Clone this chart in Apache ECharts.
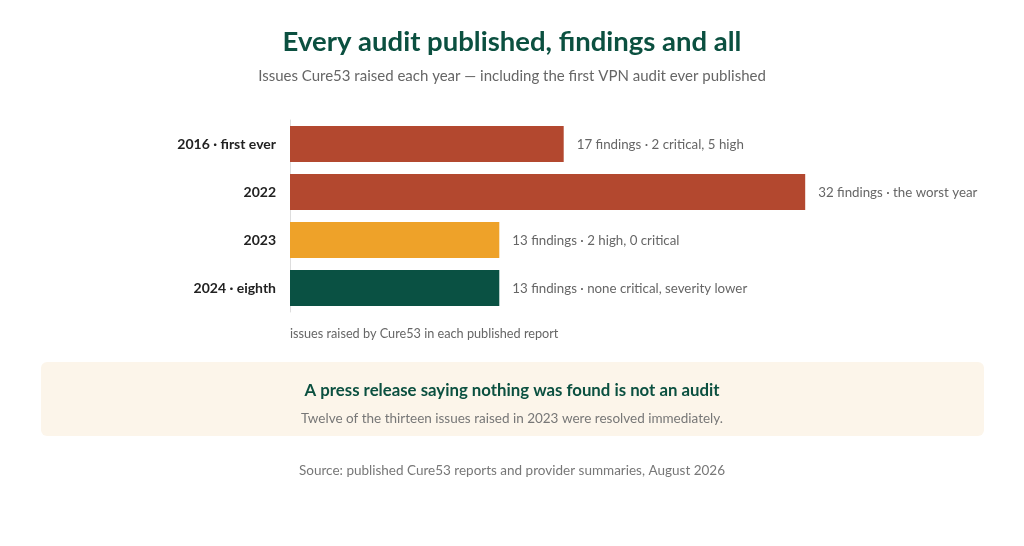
<!DOCTYPE html>
<html><head><meta charset="utf-8">
<script src="https://cdn.jsdelivr.net/npm/echarts@6/dist/echarts.min.js"></script>
<style>html,body{margin:0;padding:0;background:#fff}#c{width:1024px;height:546px}</style>
</head><body><div id="c"></div>
<script>
const categories = ['2016 · first ever', '2022', '2023', '2024 · eighth'];
const values = [17, 32, 13, 13];
const notes = ['17 findings · 2 critical, 5 high', '32 findings · the worst year', '13 findings · 2 high, 0 critical', '13 findings · none critical, severity lower'];
const colors = ['#b3482f', '#b3482f', '#eea229', '#0a5143'];
const F = 'Lato, "Noto Sans", sans-serif';
const chart = echarts.init(document.getElementById('c'));
chart.setOption({
  animation: false,
  textStyle: {fontFamily: F},
  title: [{text: 'Every audit published, findings and all', left: 'center', top: 23,
    textStyle: {fontFamily: F, fontSize: 27.5, fontWeight: 'bold', color: '#0b5040'}},
    {text: 'Issues Cure53 raised each year — including the first VPN audit ever published', left: 'center', top: 64,
    textStyle: {fontFamily: F, fontSize: 15, fontWeight: 'normal', color: '#666'}}],
  grid: {left: 290, width: 644, top: 120, height: 192},
  xAxis: {type: 'value', min: 0, max: 40, show: false},
  yAxis: {type: 'category', data: categories, inverse: true,
    axisLine: {show: true, lineStyle: {color: '#ddd'}}, axisTick: {show: false},
    axisLabel: {fontFamily: F, fontSize: 14, fontWeight: 'bold', color: '#222', margin: 14}},
  series: [{type: 'bar', barWidth: 36,
    data: values.map((v, i) => ({value: v, itemStyle: {color: colors[i]}})),
    label: {show: true, position: 'right', distance: 13, fontFamily: F, fontSize: 13.3, color: '#666',
      offset: [0, 1], formatter: p => notes[p.dataIndex]}}],
  graphic: [
    {type: 'text', left: 290, top: 327, style: {text: 'issues raised by Cure53 in each published report', font: '12.7px ' + F, fill: '#666'}},
    {type: 'rect', shape: {x: 41, y: 362, width: 943, height: 74, r: 6}, style: {fill: '#fcf5ea'}},
    {type: 'text', x: 512, y: 391, style: {text: 'A press release saying nothing was found is not an audit', font: 'bold 16.8px ' + F, fill: '#0b5040', align: 'center', verticalAlign: 'middle'}},
    {type: 'text', x: 512, y: 419, style: {text: 'Twelve of the thirteen issues raised in 2023 were resolved immediately.', font: '13.5px ' + F, fill: '#777', align: 'center', verticalAlign: 'middle'}},
    {type: 'text', x: 512, y: 471, style: {text: 'Source: published Cure53 reports and provider summaries, August 2026', font: '13.5px ' + F, fill: '#777', align: 'center', verticalAlign: 'middle'}}
  ]
});
</script></body></html>
